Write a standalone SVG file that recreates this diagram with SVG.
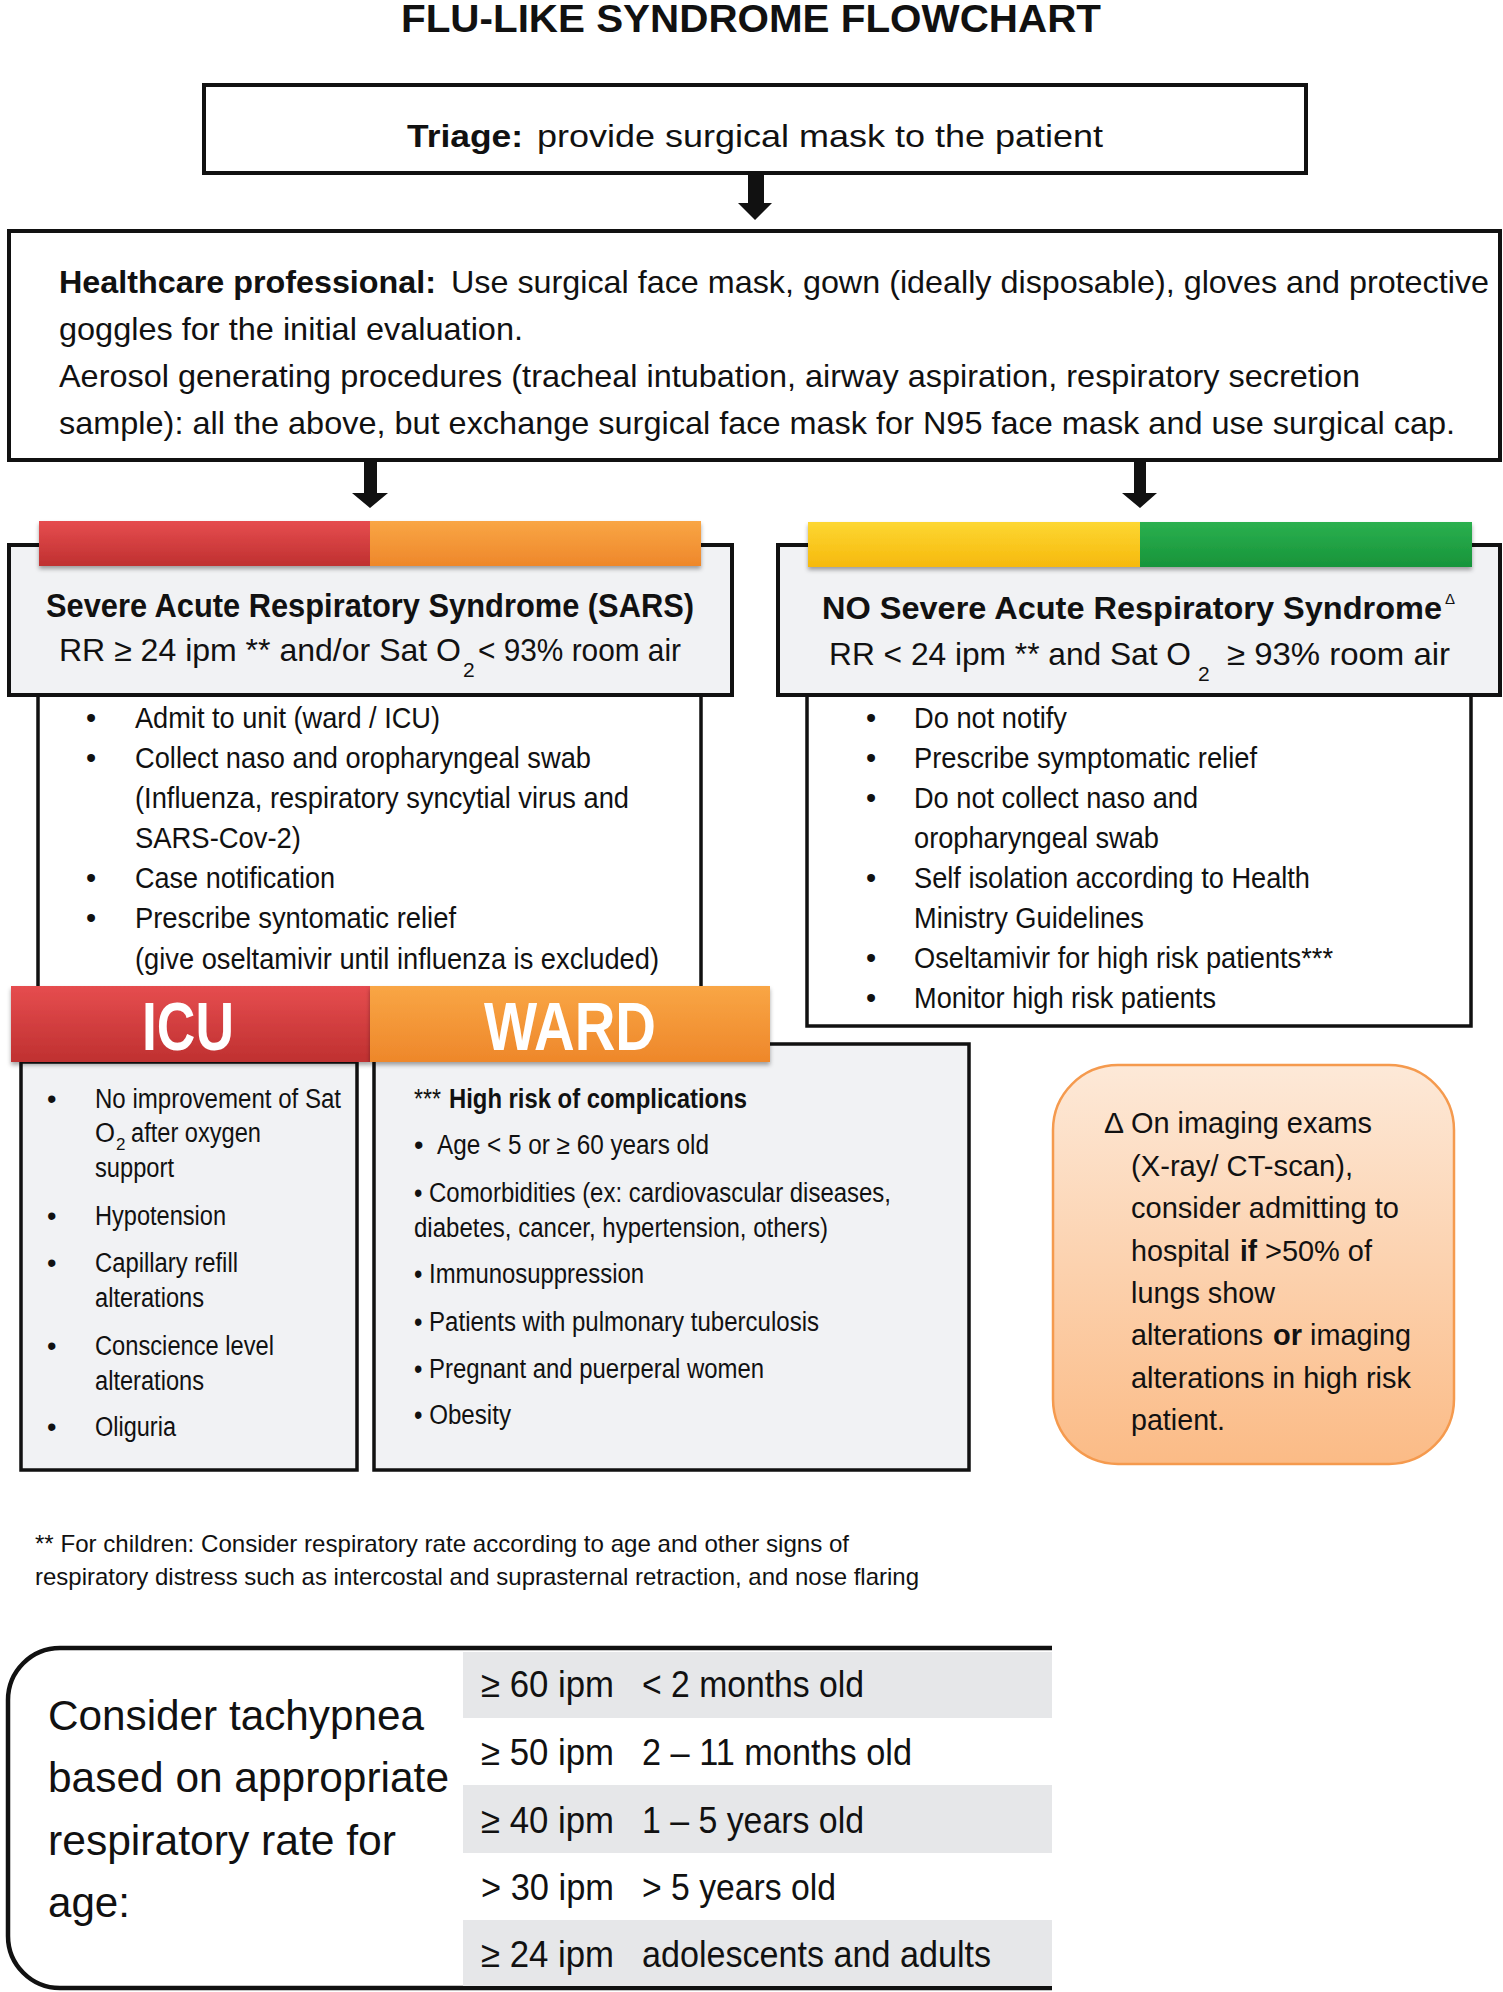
<svg xmlns="http://www.w3.org/2000/svg" width="1503" height="1992" viewBox="0 0 1503 1992">
<style>
text { font-family: "Liberation Sans Narrow","Arial Narrow","Liberation Sans",Arial,sans-serif; fill:#111; }
.wide { font-family: "Liberation Sans",Arial,sans-serif; }
.b { font-weight: bold; }
.box { stroke:#111; stroke-width:4; }
.thin { stroke:#111; stroke-width:3.5; }
.white { fill:#fff; }
.gray { fill:#f1f2f4; }
.row { fill:#e6e7e9; }
.arrow { fill:#111; }
</style>
<defs>
<linearGradient id="gRed" x1="0" y1="0" x2="0" y2="1"><stop offset="0" stop-color="#e64d4f"/><stop offset="1" stop-color="#bf3030"/></linearGradient>
<linearGradient id="gOrange" x1="0" y1="0" x2="0" y2="1"><stop offset="0" stop-color="#f9a645"/><stop offset="1" stop-color="#ee872a"/></linearGradient>
<linearGradient id="gYellow" x1="0" y1="0" x2="0" y2="1"><stop offset="0" stop-color="#fdd733"/><stop offset="1" stop-color="#f6b90c"/></linearGradient>
<linearGradient id="gGreen" x1="0" y1="0" x2="0" y2="1"><stop offset="0" stop-color="#2bb04f"/><stop offset="1" stop-color="#17943a"/></linearGradient>
<linearGradient id="gNote" x1="0" y1="0" x2="0" y2="1"><stop offset="0" stop-color="#fde9d8"/><stop offset="1" stop-color="#fbbb86"/></linearGradient>
<filter id="sh" x="-5%" y="-20%" width="110%" height="170%"><feDropShadow dx="0" dy="3" stdDeviation="2" flood-color="#000" flood-opacity="0.35"/></filter>
</defs>
<rect width="1503" height="1992" fill="#fff"/>

<text id="title" class="b" x="401" y="32" font-size="38" textLength="700" lengthAdjust="spacingAndGlyphs">FLU-LIKE SYNDROME FLOWCHART</text>

<g id="connectors">
<polygon class="arrow" points="748,173 764,173 764,203 772,203 755,220 738,203 748,203"/>
<polygon class="arrow" points="364,461 377,461 377,493 388,493 370,508 352,493 364,493"/>
<polygon class="arrow" points="1134,461 1146,461 1146,493 1157,493 1140,508 1122,493 1134,493"/>
</g>

<g id="triage">
<rect class="box white" x="204" y="85" width="1102" height="88"/>
<text class="b" x="407" y="147" font-size="32" textLength="116" lengthAdjust="spacingAndGlyphs">Triage:</text>
<text x="537" y="147" font-size="32" textLength="566" lengthAdjust="spacingAndGlyphs">provide surgical mask to the patient</text>
</g>

<g id="healthcare">
<rect class="box white" x="9" y="231" width="1491" height="229"/>
<text class="b" x="59" y="293" font-size="32" textLength="377" lengthAdjust="spacingAndGlyphs">Healthcare professional:</text>
<text x="451" y="293" font-size="32" textLength="1038" lengthAdjust="spacingAndGlyphs">Use surgical face mask, gown (ideally disposable), gloves and protective</text>
<text x="59" y="340" font-size="32" textLength="464" lengthAdjust="spacingAndGlyphs">goggles for the initial evaluation.</text>
<text x="59" y="387" font-size="32" textLength="1301" lengthAdjust="spacingAndGlyphs">Aerosol generating procedures (tracheal intubation, airway aspiration, respiratory secretion</text>
<text x="59" y="434" font-size="32" textLength="1396" lengthAdjust="spacingAndGlyphs">sample): all the above, but exchange surgical face mask for N95 face mask and use surgical cap.</text>
</g>

<g id="sars">
<rect class="thin white" x="38" y="695" width="663" height="295"/>
<rect class="box gray" x="9" y="545" width="723" height="150"/>
<g filter="url(#sh)">
<rect x="39" y="521" width="331" height="45" fill="url(#gRed)"/>
<rect x="370" y="521" width="331" height="45" fill="url(#gOrange)"/>
</g>
<text class="b" x="46" y="617" font-size="33" textLength="648" lengthAdjust="spacingAndGlyphs">Severe Acute Respiratory Syndrome (SARS)</text>
<text x="59" y="661" font-size="32" textLength="402" lengthAdjust="spacingAndGlyphs">RR ≥ 24 ipm ** and/or Sat O</text>
<text x="463" y="677" font-size="21">2</text>
<text x="478" y="661" font-size="32" textLength="203" lengthAdjust="spacingAndGlyphs">&lt; 93% room air</text>
<g font-size="29">
<text x="86" y="728">•</text><text x="135" y="728" textLength="305" lengthAdjust="spacingAndGlyphs">Admit to unit (ward / ICU)</text>
<text x="86" y="768">•</text><text x="135" y="768" textLength="456" lengthAdjust="spacingAndGlyphs">Collect naso and oropharyngeal swab</text>
<text x="135" y="808" textLength="494" lengthAdjust="spacingAndGlyphs">(Influenza, respiratory syncytial virus and</text>
<text x="135" y="848" textLength="166" lengthAdjust="spacingAndGlyphs">SARS-Cov-2)</text>
<text x="86" y="888">•</text><text x="135" y="888" textLength="200" lengthAdjust="spacingAndGlyphs">Case notification</text>
<text x="86" y="928">•</text><text x="135" y="928" textLength="321" lengthAdjust="spacingAndGlyphs">Prescribe syntomatic relief</text>
<text x="135" y="969" textLength="524" lengthAdjust="spacingAndGlyphs">(give oseltamivir until influenza is excluded)</text>
</g>
</g>

<g id="nosars">
<rect class="thin white" x="807" y="695" width="664" height="331"/>
<rect class="box gray" x="778" y="545" width="722" height="150"/>
<g filter="url(#sh)">
<rect x="808" y="522" width="332" height="45" fill="url(#gYellow)"/>
<rect x="1140" y="522" width="332" height="45" fill="url(#gGreen)"/>
</g>
<text class="b" x="822" y="619" font-size="32" textLength="620" lengthAdjust="spacingAndGlyphs">NO Severe Acute Respiratory Syndrome</text>
<text class="wide" x="1445" y="604" font-size="15">Δ</text>
<text x="829" y="665" font-size="32" textLength="362" lengthAdjust="spacingAndGlyphs">RR &lt; 24 ipm ** and Sat O</text>
<text x="1198" y="681" font-size="21">2</text>
<text x="1227" y="665" font-size="32" textLength="223" lengthAdjust="spacingAndGlyphs">≥ 93% room air</text>
<g font-size="29">
<text x="866" y="728">•</text><text x="914" y="728" textLength="153" lengthAdjust="spacingAndGlyphs">Do not notify</text>
<text x="866" y="768">•</text><text x="914" y="768" textLength="343" lengthAdjust="spacingAndGlyphs">Prescribe symptomatic relief</text>
<text x="866" y="808">•</text><text x="914" y="808" textLength="284" lengthAdjust="spacingAndGlyphs">Do not collect naso and</text>
<text x="914" y="848" textLength="245" lengthAdjust="spacingAndGlyphs">oropharyngeal swab</text>
<text x="866" y="888">•</text><text x="914" y="888" textLength="396" lengthAdjust="spacingAndGlyphs">Self isolation according to Health</text>
<text x="914" y="928" textLength="230" lengthAdjust="spacingAndGlyphs">Ministry Guidelines</text>
<text x="866" y="968">•</text><text x="914" y="968" textLength="419" lengthAdjust="spacingAndGlyphs">Oseltamivir for high risk patients***</text>
<text x="866" y="1008">•</text><text x="914" y="1008" textLength="302" lengthAdjust="spacingAndGlyphs">Monitor high risk patients</text>
</g>
</g>

<g id="ward">
<rect class="thin gray" x="374" y="1044" width="595" height="426"/>
</g>
<g id="icu">
<rect class="thin gray" x="21" y="1062" width="336" height="408"/>
<rect x="11" y="986" width="359" height="76" fill="url(#gRed)" filter="url(#sh)"/>
<text class="b" x="142" y="1050" font-size="68" style="fill:#fff" textLength="92" lengthAdjust="spacingAndGlyphs">ICU</text>
<g font-size="27">
<text x="47" y="1108">•</text><text x="95" y="1108" textLength="246" lengthAdjust="spacingAndGlyphs">No improvement of Sat</text>
<text x="95" y="1142" textLength="20" lengthAdjust="spacingAndGlyphs">O</text><text x="116" y="1150" font-size="17">2</text><text x="131" y="1142" textLength="130" lengthAdjust="spacingAndGlyphs">after oxygen</text>
<text x="95" y="1177" textLength="79" lengthAdjust="spacingAndGlyphs">support</text>
<text x="47" y="1225">•</text><text x="95" y="1225" textLength="131" lengthAdjust="spacingAndGlyphs">Hypotension</text>
<text x="47" y="1272">•</text><text x="95" y="1272" textLength="143" lengthAdjust="spacingAndGlyphs">Capillary refill</text>
<text x="95" y="1307" textLength="109" lengthAdjust="spacingAndGlyphs">alterations</text>
<text x="47" y="1355">•</text><text x="95" y="1355" textLength="179" lengthAdjust="spacingAndGlyphs">Conscience level</text>
<text x="95" y="1390" textLength="109" lengthAdjust="spacingAndGlyphs">alterations</text>
<text x="47" y="1436">•</text><text x="95" y="1436" textLength="81" lengthAdjust="spacingAndGlyphs">Oliguria</text>
</g>
</g>
<g id="ward-content">
<rect x="370" y="986" width="400" height="76" fill="url(#gOrange)" filter="url(#sh)"/>
<text class="b" x="484" y="1050" font-size="68" style="fill:#fff" textLength="172" lengthAdjust="spacingAndGlyphs">WARD</text>
<g font-size="27">
<text x="414" y="1108" textLength="27" lengthAdjust="spacingAndGlyphs">***</text>
<text class="b" x="449" y="1108" textLength="298" lengthAdjust="spacingAndGlyphs">High risk of complications</text>
<text x="414" y="1154">•</text><text x="437" y="1154" textLength="272" lengthAdjust="spacingAndGlyphs">Age &lt; 5 or ≥ 60 years old</text>
<text x="414" y="1202" textLength="477" lengthAdjust="spacingAndGlyphs">• Comorbidities (ex: cardiovascular diseases,</text>
<text x="414" y="1237" textLength="414" lengthAdjust="spacingAndGlyphs">diabetes, cancer, hypertension, others)</text>
<text x="414" y="1283" textLength="230" lengthAdjust="spacingAndGlyphs">• Immunosuppression</text>
<text x="414" y="1331" textLength="405" lengthAdjust="spacingAndGlyphs">• Patients with pulmonary tuberculosis</text>
<text x="414" y="1378" textLength="350" lengthAdjust="spacingAndGlyphs">• Pregnant and puerperal women</text>
<text x="414" y="1424" textLength="97" lengthAdjust="spacingAndGlyphs">• Obesity</text>
</g>
</g>

<g id="note">
<rect x="1053" y="1065" width="401" height="399" rx="65" ry="65" fill="url(#gNote)" stroke="#f59a4e" stroke-width="2.5"/>
<g font-size="30">
<text class="wide" x="1104" y="1133">Δ</text>
<text class="wide" x="1131" y="1133" textLength="241" lengthAdjust="spacingAndGlyphs">On imaging exams</text>
<text class="wide" x="1131" y="1176" textLength="222" lengthAdjust="spacingAndGlyphs">(X-ray/ CT-scan),</text>
<text class="wide" x="1131" y="1218" textLength="268" lengthAdjust="spacingAndGlyphs">consider admitting to</text>
<text class="wide" x="1131" y="1261" textLength="99" lengthAdjust="spacingAndGlyphs">hospital</text>
<text class="wide b" x="1240" y="1261" textLength="17" lengthAdjust="spacingAndGlyphs">if</text>
<text class="wide" x="1265" y="1261" textLength="107" lengthAdjust="spacingAndGlyphs">&gt;50% of</text>
<text class="wide" x="1131" y="1303" textLength="144" lengthAdjust="spacingAndGlyphs">lungs show</text>
<text class="wide" x="1131" y="1345" textLength="132" lengthAdjust="spacingAndGlyphs">alterations</text>
<text class="wide b" x="1273" y="1345" textLength="29" lengthAdjust="spacingAndGlyphs">or</text>
<text class="wide" x="1310" y="1345" textLength="101" lengthAdjust="spacingAndGlyphs">imaging</text>
<text class="wide" x="1131" y="1388" textLength="280" lengthAdjust="spacingAndGlyphs">alterations in high risk</text>
<text class="wide" x="1131" y="1430" textLength="94" lengthAdjust="spacingAndGlyphs">patient.</text>
</g>
</g>

<g id="footnote" font-size="24">
<text x="35" y="1552" textLength="814" lengthAdjust="spacingAndGlyphs">** For children: Consider respiratory rate according to age and other signs of</text>
<text x="35" y="1585" textLength="884" lengthAdjust="spacingAndGlyphs">respiratory distress such as intercostal and suprasternal retraction, and nose flaring</text>
</g>

<g id="tachypnea">
<path d="M1052 1648 L60 1648 A52 52 0 0 0 8 1700 L8 1936 A52 52 0 0 0 60 1988 L1052 1988" fill="#fff" stroke="#111" stroke-width="4.5"/>
<rect class="row" x="463" y="1652" width="589" height="66"/>
<rect class="row" x="463" y="1785" width="589" height="68"/>
<rect class="row" x="463" y="1920" width="589" height="66"/>
<g font-size="42">
<text x="48" y="1730" textLength="376" lengthAdjust="spacingAndGlyphs">Consider tachypnea</text>
<text x="48" y="1792" textLength="401" lengthAdjust="spacingAndGlyphs">based on appropriate</text>
<text x="48" y="1855" textLength="348" lengthAdjust="spacingAndGlyphs">respiratory rate for</text>
<text x="48" y="1917" textLength="82" lengthAdjust="spacingAndGlyphs">age:</text>
</g>
<g font-size="37">
<text x="481" y="1697" textLength="133" lengthAdjust="spacingAndGlyphs">≥ 60 ipm</text><text x="642" y="1697" textLength="222" lengthAdjust="spacingAndGlyphs">&lt; 2 months old</text>
<text x="481" y="1765" textLength="133" lengthAdjust="spacingAndGlyphs">≥ 50 ipm</text><text x="642" y="1765" textLength="270" lengthAdjust="spacingAndGlyphs">2 – 11 months old</text>
<text x="481" y="1833" textLength="133" lengthAdjust="spacingAndGlyphs">≥ 40 ipm</text><text x="642" y="1833" textLength="222" lengthAdjust="spacingAndGlyphs">1 – 5 years old</text>
<text x="481" y="1900" textLength="133" lengthAdjust="spacingAndGlyphs">&gt; 30 ipm</text><text x="642" y="1900" textLength="194" lengthAdjust="spacingAndGlyphs">&gt; 5 years old</text>
<text x="481" y="1967" textLength="133" lengthAdjust="spacingAndGlyphs">≥ 24 ipm</text><text x="642" y="1967" textLength="349" lengthAdjust="spacingAndGlyphs">adolescents and adults</text>
</g>
</g>
</svg>
